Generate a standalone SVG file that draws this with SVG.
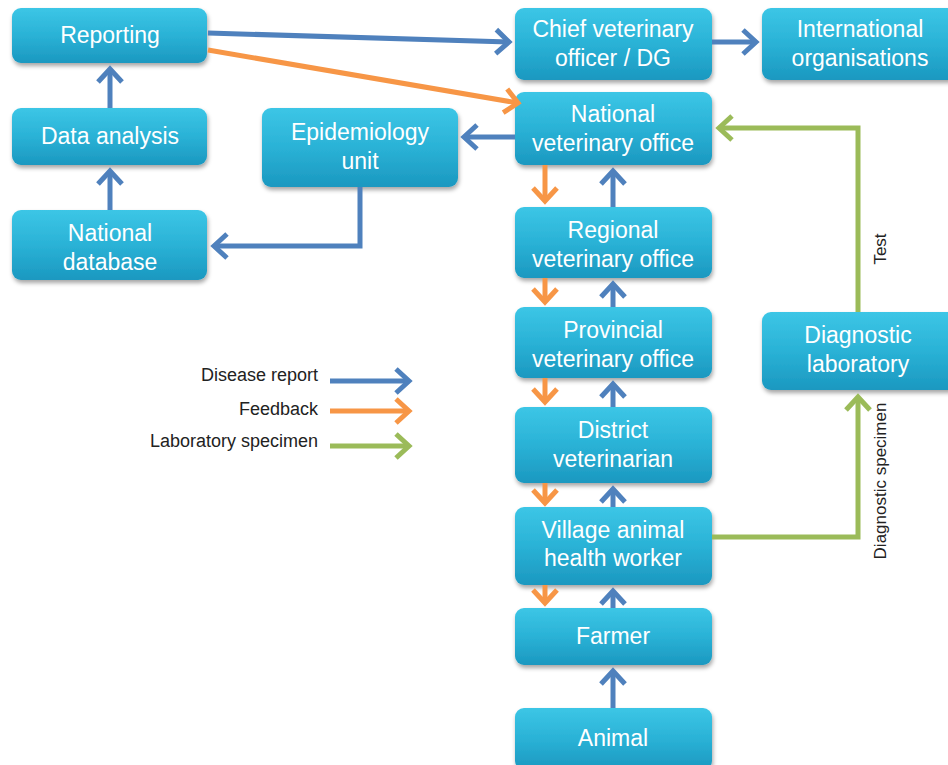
<svg xmlns="http://www.w3.org/2000/svg" width="948" height="765" viewBox="0 0 948 765">
<style>
.box{fill:url(#g);filter:url(#sh)}
.t{font-family:"Liberation Sans",Arial,sans-serif;font-size:23px;fill:#fff;text-anchor:middle}
.lg{font-family:"Liberation Sans",Arial,sans-serif;font-size:18px;fill:#222;text-anchor:end}
.rl{font-family:"Liberation Sans",Arial,sans-serif;font-size:17px;fill:#222;text-anchor:middle}
.c{fill:none;stroke-width:5;stroke-linejoin:miter}
.b{stroke:#4F81BD;marker-end:url(#mb)}
.o{stroke:#F79646;marker-end:url(#mo)}
.gr{stroke:#9BBB59;marker-end:url(#mg)}
</style>
<defs>
<linearGradient id="g" x1="0" y1="0" x2="0" y2="1">
<stop offset="0" stop-color="#3CC6E6"/>
<stop offset="0.5" stop-color="#2AB2D6"/>
<stop offset="1" stop-color="#1B98C0"/>
</linearGradient>
<filter id="sh" x="-10%" y="-10%" width="120%" height="130%">
<feDropShadow dx="1" dy="3" stdDeviation="2" flood-color="#000" flood-opacity="0.35"/>
</filter>
<marker id="mb" markerUnits="userSpaceOnUse" markerWidth="30" markerHeight="30" refX="0" refY="0" viewBox="-16 -15 20 30" orient="auto" overflow="visible">
<path d="M-13 -12 L0 0 L-13 12" fill="none" stroke="#4F81BD" stroke-width="5"/>
</marker>
<marker id="mo" markerUnits="userSpaceOnUse" markerWidth="30" markerHeight="30" refX="0" refY="0" viewBox="-16 -15 20 30" orient="auto" overflow="visible">
<path d="M-13 -12 L0 0 L-13 12" fill="none" stroke="#F79646" stroke-width="5"/>
</marker>
<marker id="mg" markerUnits="userSpaceOnUse" markerWidth="30" markerHeight="30" refX="0" refY="0" viewBox="-16 -15 20 30" orient="auto" overflow="visible">
<path d="M-13 -12 L0 0 L-13 12" fill="none" stroke="#9BBB59" stroke-width="5"/>
</marker>
</defs>
<rect width="948" height="765" fill="#fff"/>

<g id="reporting"><rect class="box" x="12" y="8" width="195" height="55" rx="9"/><text class="t" x="110" y="43">Reporting</text></g>
<g id="data-analysis"><rect class="box" x="12" y="108" width="195" height="57" rx="9"/><text class="t" x="110" y="144">Data analysis</text></g>
<g id="national-database"><rect class="box" x="12" y="210" width="195" height="70" rx="9"/><text class="t" x="110" y="241">National</text><text class="t" x="110" y="270">database</text></g>
<g id="epidemiology-unit"><rect class="box" x="262" y="108" width="196" height="79" rx="9"/><text class="t" x="360" y="140">Epidemiology</text><text class="t" x="360" y="169">unit</text></g>
<g id="chief-vet"><rect class="box" x="515" y="8" width="197" height="72" rx="9"/><text class="t" x="613" y="37">Chief veterinary</text><text class="t" x="613" y="66">officer / DG</text></g>
<g id="international"><rect class="box" x="762" y="8" width="196" height="72" rx="9"/><text class="t" x="860" y="37">International</text><text class="t" x="860" y="66">organisations</text></g>
<g id="national-vet"><rect class="box" x="515" y="92" width="197" height="73" rx="9"/><text class="t" x="613" y="122">National</text><text class="t" x="613" y="151">veterinary office</text></g>
<g id="regional-vet"><rect class="box" x="515" y="207" width="197" height="71" rx="9"/><text class="t" x="613" y="238">Regional</text><text class="t" x="613" y="267">veterinary office</text></g>
<g id="provincial-vet"><rect class="box" x="515" y="307" width="197" height="71" rx="9"/><text class="t" x="613" y="338">Provincial</text><text class="t" x="613" y="367">veterinary office</text></g>
<g id="district-vet"><rect class="box" x="515" y="407" width="197" height="76" rx="9"/><text class="t" x="613" y="438">District</text><text class="t" x="613" y="467">veterinarian</text></g>
<g id="village-worker"><rect class="box" x="515" y="507" width="197" height="78" rx="9"/><text class="t" x="613" y="538">Village animal</text><text class="t" x="613" y="566">health worker</text></g>
<g id="farmer"><rect class="box" x="515" y="608" width="197" height="57" rx="9"/><text class="t" x="613" y="644">Farmer</text></g>
<g id="animal"><rect class="box" x="515" y="708" width="197" height="62" rx="9"/><text class="t" x="613" y="746">Animal</text></g>
<g id="diagnostic-lab"><rect class="box" x="762" y="312" width="196" height="78" rx="9"/><text class="t" x="858" y="343">Diagnostic</text><text class="t" x="858" y="372">laboratory</text></g>

<g id="connectors">
<path class="c b" d="M208 33 L509 42"/>
<path class="c b" d="M712 42 L756 42"/>
<path class="c b" d="M515 137 L464 137"/>
<path class="c b" d="M360 187 L360 246 L214 246"/>
<path class="c b" d="M110 108 L110 69"/>
<path class="c b" d="M110 210 L110 171"/>
<path class="c b" d="M613 207 L613 171"/>
<path class="c b" d="M613 307 L613 284"/>
<path class="c b" d="M613 407 L613 384"/>
<path class="c b" d="M613 507 L613 489"/>
<path class="c b" d="M613 608 L613 591"/>
<path class="c b" d="M613 708 L613 671"/>
<path class="c o" d="M208 50 L518 103"/>
<path class="c o" d="M545 165 L545 201"/>
<path class="c o" d="M545 278 L545 302"/>
<path class="c o" d="M545 378 L545 402"/>
<path class="c o" d="M545 483 L545 503"/>
<path class="c o" d="M545 585 L545 603"/>
<path class="c gr" d="M712 537 L858 537 L858 397"/>
<path class="c gr" d="M858 312 L858 128 L719 128"/>
<path class="c b" d="M330 381 L409 381"/>
<path class="c o" d="M330 411 L409 411"/>
<path class="c gr" d="M330 446 L409 446"/>
</g>

<g id="labels">
<text class="lg" x="318" y="381">Disease report</text>
<text class="lg" x="318" y="415">Feedback</text>
<text class="lg" x="318" y="447">Laboratory specimen</text>
<text class="rl" transform="translate(886 249) rotate(-90)">Test</text>
<text class="rl" transform="translate(886 481) rotate(-90)">Diagnostic specimen</text>
</g>
</svg>
